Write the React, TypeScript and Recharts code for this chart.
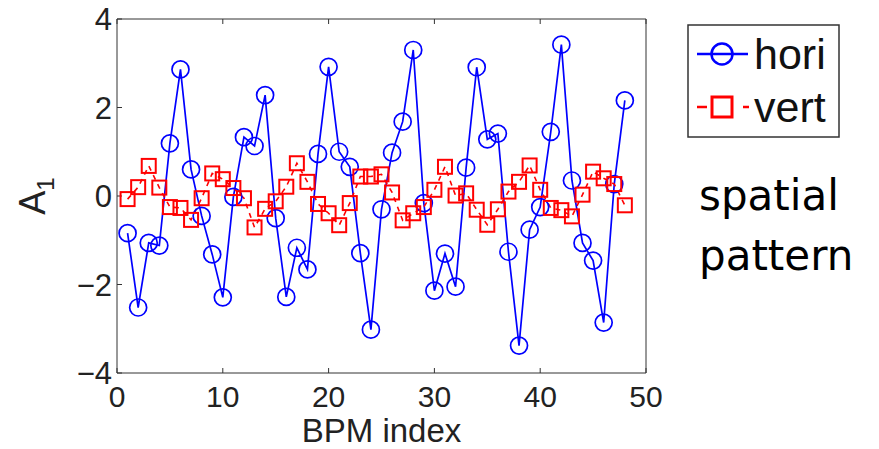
import { LineChart, Line, XAxis, YAxis } from "recharts";

const bpm = [
  1, 2, 3, 4, 5, 6, 7, 8, 9, 10, 11, 12, 13, 14, 15, 16, 17, 18, 19, 20, 21, 22, 23, 24,
  25, 26, 27, 28, 29, 30, 31, 32, 33, 34, 35, 36, 37, 38, 39, 40, 41, 42, 43, 44, 45, 46, 47, 48,
];
const hori = [
  -0.84, -2.52, -1.06, -1.12, 1.19, 2.86, 0.6, -0.45, -1.32, -2.29, -0.02, 1.33, 1.13, 2.28, -0.5, -2.28,
  -1.17, -1.66, 0.95, 2.92, 1.0, 0.66, -1.29, -3.02, -0.3, 0.98, 1.68, 3.3, -0.16, -2.14, -1.3, -2.05,
  0.64, 2.91, 1.28, 1.41, -1.26, -3.38, -0.76, -0.25, 1.45, 3.42, 0.35, -1.06, -1.46, -2.86, 0.27, 2.16,
];
const vert = [
  -0.07, 0.2, 0.68, 0.19, -0.25, -0.27, -0.54, -0.05, 0.51, 0.38, 0.18, -0.05, -0.71, -0.29, -0.12, 0.21,
  0.74, 0.32, -0.18, -0.39, -0.66, -0.16, 0.44, 0.44, 0.49, 0.08, -0.55, -0.39, -0.25, 0.14, 0.66, 0.01,
  0.06, -0.31, -0.65, -0.3, 0.1, 0.32, 0.69, 0.14, -0.27, -0.32, -0.46, 0.03, 0.55, 0.4, 0.27, -0.21,
];
const xTicks = [0, 10, 20, 30, 40, 50];
const yTicks = [-4, -2, 0, 2, 4];

const data = bpm.map((b, i) => ({ bpm: b, hori: hori[i], vert: vert[i] }));

const font = "Liberation Sans, Arial, sans-serif";
const fmt = (v: number) => String(v).replace("-", "\u2212");

const Circle = (props: any) => {
  const { cx, cy } = props;
  if (cx == null || cy == null) return <g />;
  return <circle cx={cx} cy={cy} r={8.5} fill="none" stroke="#0000ff" strokeWidth={1.7} />;
};

const Square = (props: any) => {
  const { cx, cy } = props;
  if (cx == null || cy == null) return <g />;
  return <rect x={cx - 7} y={cy - 7} width={14} height={14} fill="none" stroke="#ff0000" strokeWidth={2} />;
};

const YLabel = (props: any) => {
  const { viewBox } = props;
  const cy = viewBox.y + viewBox.height / 2;
  const x = 45;
  return (
    <text x={x} y={cy} transform={`rotate(-90 ${x} ${cy})`} textAnchor="middle" fill="#222" fontSize={36} fontFamily={font}>
      A<tspan fontSize={24} dy={9}>1</tspan>
    </text>
  );
};

const XLabel = (props: any) => {
  const { viewBox } = props;
  const cx = viewBox.x + viewBox.width / 2;
  return (
    <text x={cx} y={442} textAnchor="middle" fill="#222" fontSize={33} fontFamily={font}>
      BPM index
    </text>
  );
};

const LegendBox = () => (
  <svg width={153} height={114} style={{ position: "absolute", left: 687, top: 24 }}>
    <rect x={1} y={1} width={151} height={112} fill="#fff" stroke="#333" strokeWidth={1.5} />
    <line x1={10} y1={30} x2={61} y2={30} stroke="#0000ff" strokeWidth={2.5} />
    <circle cx={35} cy={30} r={10.5} fill="none" stroke="#0000ff" strokeWidth={2.5} />
    <text x={67} y={45} fontSize={43} fontFamily={font} fill="#111">
      hori
    </text>
    <line x1={10} y1={83} x2={62} y2={83} stroke="#ff0000" strokeWidth={2.5} strokeDasharray="10 36 7" />
    <rect x={25} y={73} width={20} height={20} fill="none" stroke="#ff0000" strokeWidth={3} />
    <text x={67} y={98} fontSize={43} fontFamily={font} fill="#111">
      vert
    </text>
  </svg>
);

export default function App() {
  return (
    <div style={{ position: "absolute", left: 0, top: 0, width: 879, height: 449, background: "#fff" }}>
      <LineChart width={879} height={449} data={data} margin={{ top: 18, right: 232, bottom: 26, left: 57 }}>
        <XAxis
          xAxisId="b"
          dataKey="bpm"
          type="number"
          domain={[0, 50]}
          ticks={xTicks}
          height={50}
          stroke="#333"
          tickSize={-5}
          tickMargin={18}
          tick={{ fill: "#222", fontSize: 30, fontFamily: font }}
          label={<XLabel />}
        />
        <XAxis
          xAxisId="t"
          orientation="top"
          dataKey="bpm"
          type="number"
          domain={[0, 50]}
          ticks={xTicks}
          height={1}
          stroke="#333"
          tickSize={-5}
          tick={() => <g />}
        />
        <YAxis
          yAxisId="l"
          type="number"
          domain={[-4, 4]}
          ticks={yTicks}
          width={60}
          stroke="#333"
          tickSize={-5}
          tickMargin={10}
          tickFormatter={fmt}
          tick={{ fill: "#222", fontSize: 31, fontFamily: font }}
          label={<YLabel />}
        />
        <YAxis
          yAxisId="r"
          orientation="right"
          type="number"
          domain={[-4, 4]}
          ticks={yTicks}
          width={1}
          stroke="#333"
          tickSize={-5}
          tick={() => <g />}
        />
        <Line
          xAxisId="b"
          yAxisId="l"
          dataKey="hori"
          name="hori"
          stroke="#0000ff"
          strokeWidth={1.7}
          dot={Circle}
          activeDot={false}
          isAnimationActive={false}
        />
        <Line
          xAxisId="b"
          yAxisId="l"
          dataKey="vert"
          name="vert"
          stroke="#ff0000"
          strokeWidth={1.6}
          strokeDasharray="5 5"
          dot={Square}
          activeDot={false}
          isAnimationActive={false}
        />
      </LineChart>
      <LegendBox />
      <div
        style={{
          position: "absolute",
          left: 699,
          top: 166,
          fontFamily: "DejaVu Sans, sans-serif",
          fontSize: 42,
          lineHeight: "60px",
          color: "#000",
        }}
      >
        spatial
        <br />
        pattern
      </div>
    </div>
  );
}
